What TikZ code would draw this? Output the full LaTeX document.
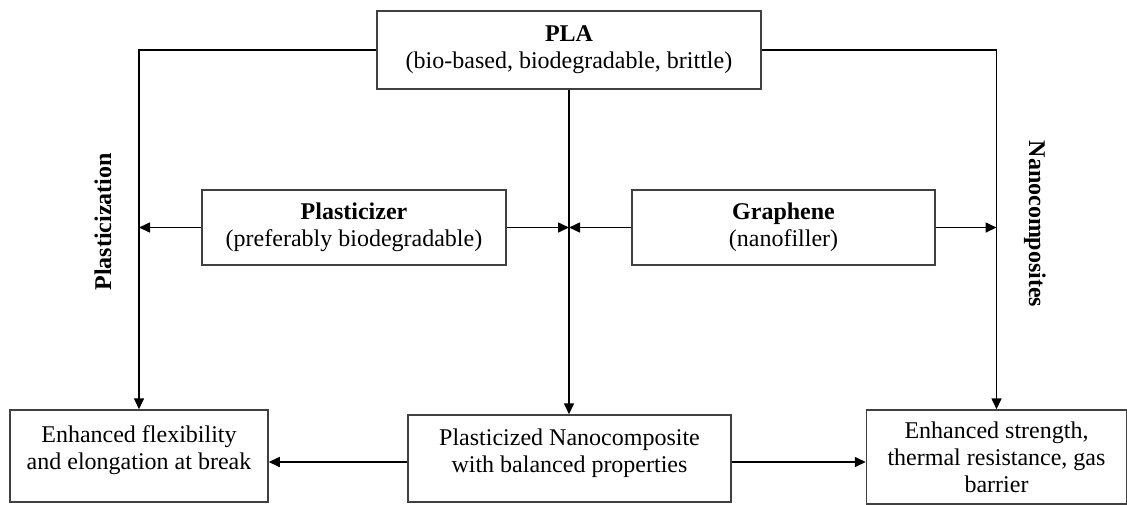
\documentclass[tikz,border=0pt]{standalone}
\usepackage{fontspec}
\setmainfont{Liberation Serif}
\usetikzlibrary{arrows.meta}

\begin{document}
\begin{tikzpicture}[x=0.5pt,y=-0.5pt,
		box/.style={draw=black!75, line width=0.75pt, align=center, inner sep=0pt, font=\fontsize{12}{13.5}\selectfont},
		arr/.style={-{Triangle[length=5.5pt,width=5pt]}, line width=0.8pt},
		side/.style={font=\fontsize{12}{13.5}\selectfont\bfseries}]
	\useasboundingbox (0,0) rectangle (1127,504);
	
	% Define boxes
	\node[box, minimum width=192pt, minimum height=39pt] (pla) at (569,50) {\textbf{PLA}\\(bio-based, biodegradable, brittle)};
	\node[box, minimum width=152pt, minimum height=37.5pt] (plast) at (354,227.5) {\textbf{Plasticizer}\\(preferably biodegradable)};
	\node[box, minimum width=151.5pt, minimum height=37.5pt] (graph) at (783.5,227.5) {\textbf{Graphene}\\(nanofiller)};
	\node[box, minimum width=129pt, minimum height=46pt] (flex) at (139,456) {Enhanced flexibility\\and elongation at break\\[-5.5pt]};
	\node[box, minimum width=161.5pt, minimum height=43.5pt] (nano) at (569.5,458.5) {Plasticized Nanocomposite\\with balanced properties\\[-5.5pt]};
	\node[box, minimum width=130pt, minimum height=47pt] (strength) at (996.5,457) {Enhanced strength,\\thermal resistance, gas\\barrier};
	
	% Side labels
	\node[side, rotate=90] (plastlbl) at (103,222) {Plasticization};
	\node[side, rotate=-90] (nanolbl) at (1035,224) {Nanocomposites};
	
	% Draw main lines
	\draw[arr] (pla.west) -| (flex.north);
	\draw[arr] (pla.east) -| (strength.north);
	\draw[arr] (pla.south) -- (pla.south |- nano.north);
	
	% Draw additive arrows
	\draw[arr] (plast.west) -- (plast.west -| flex.north);
	\draw[arr] (plast.east) -- (plast.east -| pla.south);
	\draw[arr] (graph.west) -- (graph.west -| pla.south);
	\draw[arr] (graph.east) -- (graph.east -| strength.north);
	
	% Draw result arrows
	\coordinate (nanoL) at ([yshift=-1.75pt]nano.west);
	\coordinate (nanoR) at ([yshift=-1.75pt]nano.east);
	\draw[arr] (nanoL) -- (nanoL -| flex.east);
	\draw[arr] (nanoR) -- (nanoR -| strength.west);
\end{tikzpicture}
\end{document}
